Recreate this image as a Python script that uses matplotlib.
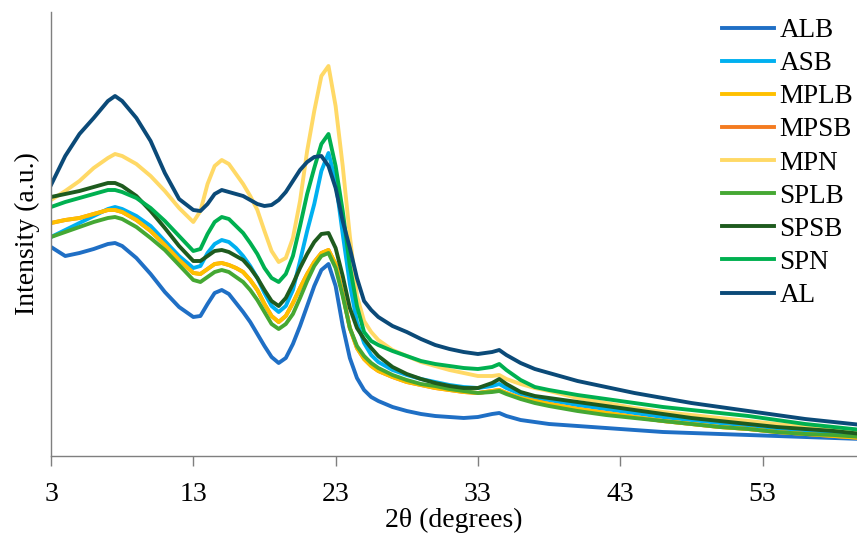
import matplotlib
matplotlib.use("Agg")
import matplotlib.pyplot as plt

two_theta = [3, 4, 5, 6, 7, 7.5, 8, 9, 10, 11, 12, 13,
             13.5, 14, 14.5, 15, 15.5, 16, 16.5, 17, 17.5, 18, 18.5, 19, 19.5,
             20, 20.5, 21, 21.5, 22, 22.5, 23, 23.5, 24, 24.5, 25, 25.5, 26,
             27, 28, 29, 30, 31, 32, 33, 34, 34.5, 35, 36, 37, 38,
             40, 42, 44, 46, 48, 50, 52, 54, 56, 58, 60]

ALB = [209, 200, 203, 207, 212, 213, 210, 198, 182, 164, 149, 139,
       140, 152, 163, 166, 162, 153, 144, 134, 122, 110, 99, 93, 98,
       112, 130, 150, 170, 186, 192, 170, 130, 98, 78, 66, 59, 55,
       49, 45, 42, 40, 39, 38, 39, 42, 43, 40, 36, 34, 32,
       30, 28, 26, 24, 23, 22, 21, 20, 19, 18, 17]
ASB = [219, 226, 233, 240, 247, 249, 247, 240, 230, 215, 200, 188,
       190, 203, 212, 216, 214, 208, 200, 190, 178, 163, 150, 144, 150,
       166, 195, 225, 252, 285, 303, 275, 222, 172, 134, 113, 101, 94,
       86, 81, 77, 74, 71, 69, 68, 70, 72, 68, 62, 58, 56,
       51, 47, 43, 39, 36, 33, 30, 27, 25, 22, 20]
MPLB = [233, 236, 238, 242, 246, 246, 244, 236, 225, 211, 196, 183,
        182, 187, 192, 193, 191, 188, 184, 176, 166, 152, 140, 134, 140,
        153, 168, 182, 194, 203, 206, 192, 162, 128, 108, 97, 90, 85,
        79, 74, 71, 68, 66, 64, 63, 65, 66, 63, 58, 55, 52,
        47, 43, 39, 35, 32, 29, 27, 24, 22, 20, 18]
MPSB = [233, 236, 238, 242, 246, 246, 244, 236, 225, 211, 196, 183,
        182, 187, 192, 193, 191, 188, 184, 176, 166, 152, 140, 134, 140,
        153, 168, 182, 194, 203, 206, 192, 162, 128, 108, 97, 90, 85,
        79, 74, 71, 68, 66, 64, 63, 65, 66, 63, 58, 55, 52,
        47, 43, 39, 35, 32, 29, 27, 24, 22, 20, 18]
MPN = [256, 265, 275, 288, 298, 302, 300, 292, 280, 265, 248, 234,
       245, 272, 290, 296, 292, 282, 272, 260, 246, 225, 205, 194, 198,
       218, 255, 305, 345, 380, 390, 350, 290, 220, 160, 135, 124, 116,
       106, 100, 94, 90, 86, 83, 80, 80, 81, 77, 72, 68, 65,
       58, 53, 48, 44, 41, 38, 35, 32, 29, 27, 25]
SPLB = [219, 224, 229, 234, 238, 239, 237, 229, 218, 206, 191, 176,
        174, 179, 184, 186, 184, 179, 174, 166, 156, 144, 132, 127, 132,
        142, 158, 175, 190, 200, 203, 188, 160, 128, 110, 100, 93, 88,
        81, 76, 72, 70, 67, 65, 63, 64, 65, 62, 57, 53, 50,
        45, 41, 38, 35, 32, 29, 27, 24, 22, 21, 19]
SPSB = [259, 262, 265, 269, 273, 273, 270, 260, 245, 228, 210, 195,
        195, 200, 205, 206, 204, 200, 196, 188, 178, 166, 155, 150, 158,
        172, 188, 202, 214, 222, 223, 208, 180, 148, 128, 117, 108, 100,
        89, 82, 77, 73, 70, 68, 68, 73, 77, 72, 64, 60, 58,
        54, 50, 46, 42, 38, 35, 32, 29, 27, 25, 22]
SPN = [249, 254, 258, 262, 266, 266, 264, 258, 248, 235, 220, 205,
       207, 222, 234, 239, 237, 230, 223, 213, 202, 188, 178, 174, 182,
       200, 230, 262, 288, 312, 322, 290, 245, 190, 150, 124, 115, 111,
       105, 100, 95, 92, 90, 88, 87, 89, 92, 86, 76, 69, 66,
       61, 57, 53, 49, 46, 43, 40, 36, 32, 29, 26]
AL = [271, 300, 322, 338, 355, 360, 355, 338, 315, 283, 257, 246,
      245, 252, 262, 266, 264, 262, 260, 256, 252, 250, 251, 256, 264,
      275, 286, 294, 299, 300, 290, 268, 235, 208, 178, 155, 146, 139,
      130, 124, 117, 111, 107, 104, 102, 104, 106, 101, 93, 87, 83,
      75, 69, 63, 58, 53, 49, 45, 41, 37, 34, 31]

series_names = ["ALB", "ASB", "MPLB", "MPSB", "MPN", "SPLB", "SPSB", "SPN", "AL"]
series_values = [ALB, ASB, MPLB, MPSB, MPN, SPLB, SPSB, SPN, AL]
colors = ["#1F6FC5", "#00B0F0", "#FFC000", "#F47B20", "#FFD966",
          "#45A833", "#1E5B1E", "#00B050", "#0B4A78"]
x_ticks = [3, 13, 23, 33, 43, 53]

plt.rcParams['font.family'] = ['Liberation Serif', 'DejaVu Serif']

fig = plt.figure(figsize=(8.57, 5.38), dpi=100)
ax = fig.add_axes([51/857, 82/538, 806/857, 444/538])

# draw MPSB underneath MPLB (it is hidden in the original)
order = [0, 1, 3, 2, 4, 5, 6, 7, 8]
handles = {}
for i in order:
    h, = ax.plot(two_theta, series_values[i], color=colors[i], lw=2.8,
                 label=series_names[i], solid_joinstyle='round')
    handles[i] = h

ax.set_xlim(3, 59.64)
ax.set_ylim(0, 444)
ax.set_xticks(x_ticks)
ax.set_xticklabels([str(t) for t in x_ticks])
ax.set_yticks([])
for s in ["top", "right"]:
    ax.spines[s].set_visible(False)
for s in ["left", "bottom"]:
    ax.spines[s].set_color("#7f7f7f")
    ax.spines[s].set_linewidth(1.0)
ax.tick_params(axis='x', direction='out', length=7, width=1.0, color="#7f7f7f",
               labelsize=20, pad=12)
ax.set_xlabel("2θ (degrees)", fontsize=20, labelpad=0)
ax.set_ylabel("Intensity (a.u.)", fontsize=20, labelpad=8)

leg = ax.legend([handles[i] for i in range(9)], series_names,
                loc='upper left', bbox_to_anchor=(722/857, 1 - 18/538),
                bbox_transform=fig.transFigure, frameon=False, fontsize=19.5,
                handlelength=1.92, handletextpad=0.2, labelspacing=0.3,
                borderaxespad=0, borderpad=0)
for line in leg.get_lines():
    line.set_linewidth(2.8)

fig.savefig("out.png", dpi=100)
